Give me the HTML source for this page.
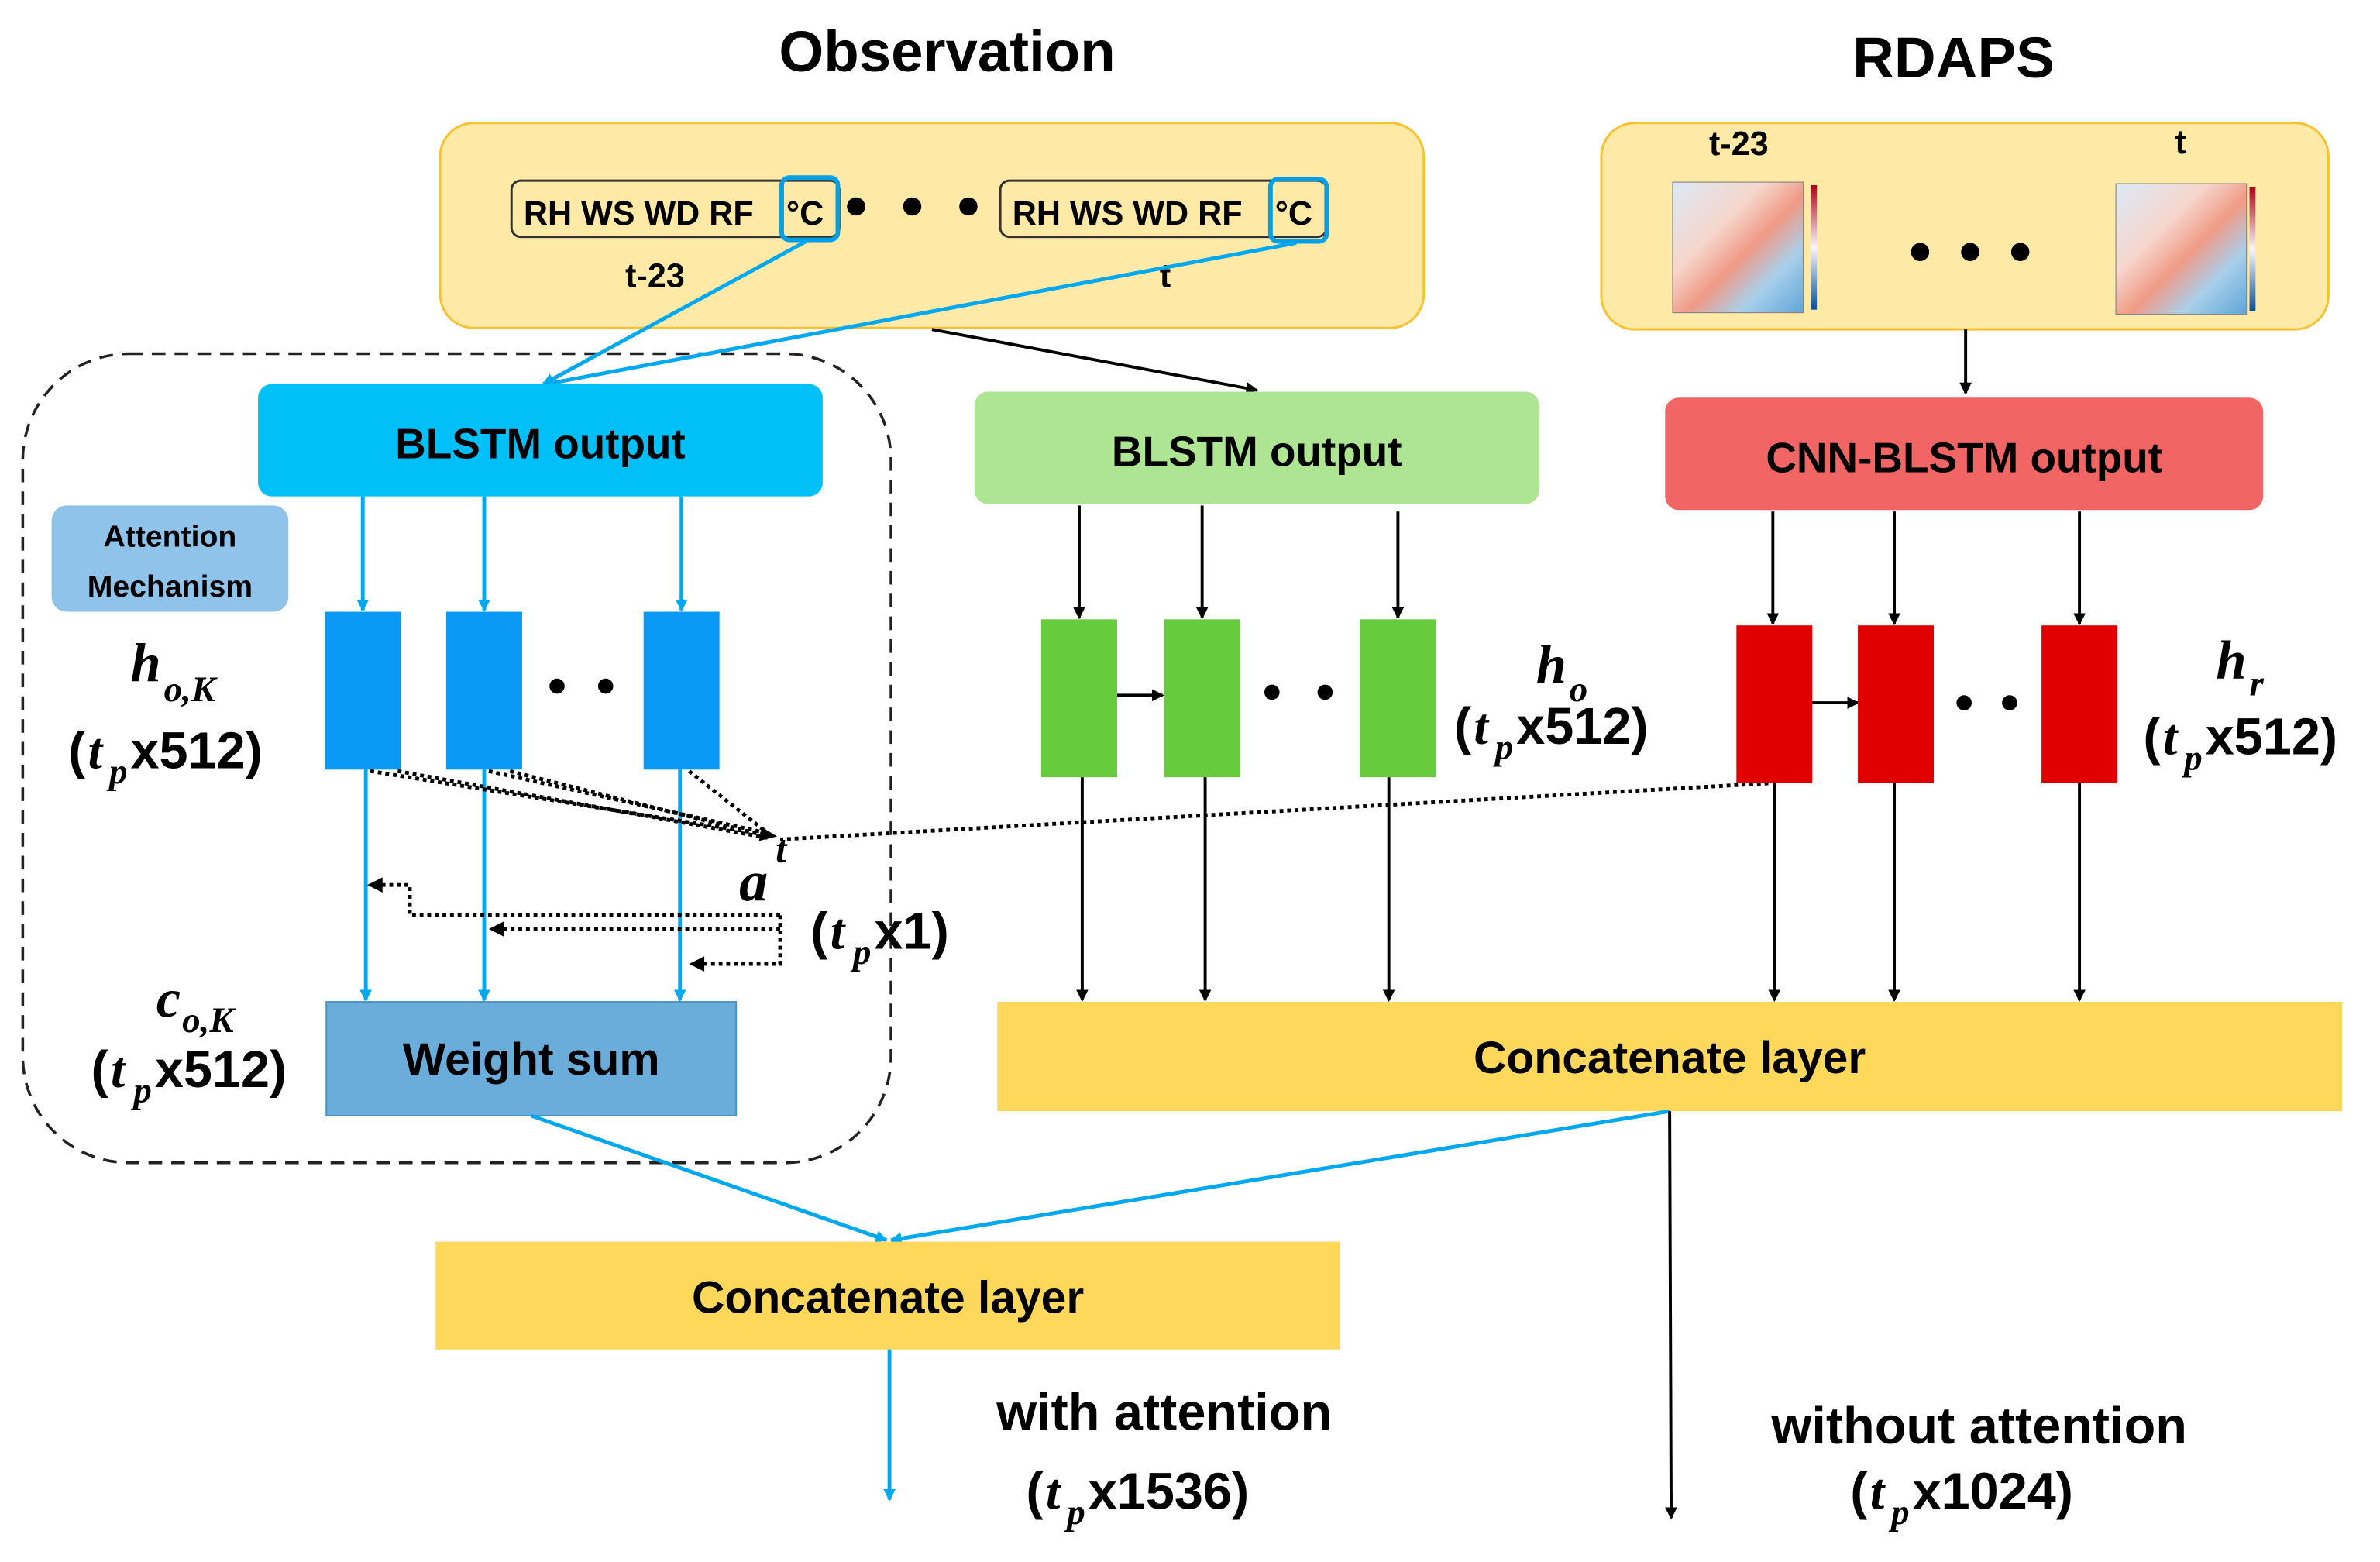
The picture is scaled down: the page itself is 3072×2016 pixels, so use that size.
<!DOCTYPE html>
<html><head><meta charset="utf-8"><style>
html,body{margin:0;padding:0;background:#fff;}
svg{display:block;}
text{font-family:"Liberation Sans",sans-serif;font-weight:bold;fill:#000;}
.m{font-family:"Liberation Serif",serif;font-style:italic;font-weight:bold;}
</style></head><body>
<svg width="3072" height="2016" viewBox="0 0 1568 1029" xmlns="http://www.w3.org/2000/svg">
<defs>
<marker id="ab" markerWidth="8" markerHeight="8" refX="7" refY="4" orient="auto" markerUnits="userSpaceOnUse"><path d="M0,0 L8,4 L0,8 Z" fill="#00a8f0"/></marker>
<marker id="ak" markerWidth="8" markerHeight="8" refX="7" refY="4" orient="auto" markerUnits="userSpaceOnUse"><path d="M0,0 L8,4 L0,8 Z" fill="#000"/></marker>
<linearGradient id="hm" x1="0" y1="0" x2="1" y2="1">
<stop offset="0" stop-color="#dbe9f5"/><stop offset="0.35" stop-color="#f6d6cc"/><stop offset="0.55" stop-color="#f09a86"/><stop offset="0.75" stop-color="#a9cfea"/><stop offset="1" stop-color="#5fa6d9"/></linearGradient>
<linearGradient id="cb" x1="0" y1="0" x2="0" y2="1"><stop offset="0" stop-color="#b0001a"/><stop offset="0.5" stop-color="#f7f7f7"/><stop offset="1" stop-color="#0a4f9a"/></linearGradient>
</defs>

<text x="624" y="47" font-size="38" text-anchor="middle">Observation</text>
<text x="1287" y="51" font-size="38" text-anchor="middle">RDAPS</text>

<rect x="290" y="81" width="648" height="135" rx="22" fill="#fee9a6" stroke="#f7c22e" stroke-width="1.5"/>
<rect x="337" y="119" width="216" height="37" rx="6" fill="none" stroke="#333" stroke-width="1.5"/>
<rect x="515" y="117" width="37" height="41" rx="5" fill="none" stroke="#00a0e8" stroke-width="3"/>
<text x="345" y="148" font-size="22">RH WS WD RF</text>
<text x="518" y="148" font-size="22">°C</text>
<circle cx="564" cy="136" r="6"/><circle cx="601" cy="136" r="6"/><circle cx="638" cy="136" r="6"/>
<rect x="659" y="119" width="215" height="37" rx="6" fill="none" stroke="#333" stroke-width="1.5"/>
<rect x="837" y="118" width="37" height="41" rx="5" fill="none" stroke="#00a0e8" stroke-width="3"/>
<text x="667" y="148" font-size="22">RH WS WD RF</text>
<text x="840" y="148" font-size="22">°C</text>
<text x="412" y="189" font-size="22">t-23</text>
<text x="764" y="189" font-size="22">t</text>

<rect x="1055" y="81" width="479" height="136" rx="22" fill="#fee9a6" stroke="#f7c22e" stroke-width="1.5"/>
<text x="1126" y="102" font-size="22">t-23</text>
<text x="1433" y="101" font-size="22">t</text>
<rect x="1102" y="120" width="86" height="86" fill="url(#hm)" stroke="#888" stroke-width="0.6"/>
<rect x="1193" y="122" width="4" height="82" fill="url(#cb)"/>
<rect x="1394" y="121" width="86" height="86" fill="url(#hm)" stroke="#888" stroke-width="0.6"/>
<rect x="1482" y="123" width="4" height="82" fill="url(#cb)"/>
<circle cx="1265" cy="166" r="6"/><circle cx="1298" cy="166" r="6"/><circle cx="1331" cy="166" r="6"/>

<rect x="15" y="233" width="572" height="533" rx="70" fill="none" stroke="#222" stroke-width="1.8" stroke-dasharray="9,6"/>

<line x1="531" y1="159" x2="358" y2="253" stroke="#00a8f0" stroke-width="2.5" marker-end="url(#ab)"/>
<line x1="854" y1="160" x2="360" y2="253" stroke="#00a8f0" stroke-width="2.5"/>
<line x1="614" y1="217" x2="828" y2="257" stroke="#000" stroke-width="2" marker-end="url(#ak)"/>
<line x1="1295" y1="217" x2="1295" y2="259" stroke="#000" stroke-width="2" marker-end="url(#ak)"/>

<rect x="170" y="253" width="372" height="74" rx="9" fill="#00c0f8"/>
<text x="356" y="302" font-size="28" text-anchor="middle">BLSTM output</text>
<rect x="34" y="333" width="156" height="70" rx="10" fill="#90c3ea"/>
<text x="112" y="360" font-size="20" text-anchor="middle" font-weight="normal">Attention</text>
<text x="112" y="393" font-size="20" text-anchor="middle" font-weight="normal">Mechanism</text>

<g stroke="#00a8f0" stroke-width="2.5">
<line x1="239" y1="327" x2="239" y2="402" marker-end="url(#ab)"/>
<line x1="319" y1="327" x2="319" y2="402" marker-end="url(#ab)"/>
<line x1="449" y1="327" x2="449" y2="402" marker-end="url(#ab)"/>
<line x1="241" y1="507" x2="241" y2="659" marker-end="url(#ab)"/>
<line x1="319" y1="507" x2="319" y2="659" marker-end="url(#ab)"/>
<line x1="448" y1="507" x2="448" y2="659" marker-end="url(#ab)"/>
</g>
<rect x="214" y="403" width="50" height="104" fill="#0a9af5"/>
<rect x="294" y="403" width="50" height="104" fill="#0a9af5"/>
<rect x="424" y="403" width="50" height="104" fill="#0a9af5"/>
<circle cx="367" cy="452" r="5"/><circle cx="399" cy="452" r="5"/>
<text class="m" x="86" y="449" font-size="36">h</text><text class="m" x="108" y="462" font-size="24">o,K</text>
<text x="45" y="506" font-size="34">(</text><text class="m" x="58" y="506" font-size="34">t</text><text class="m" x="72" y="516" font-size="24">p</text><text x="86" y="506" font-size="34">x512)</text>

<g stroke="#000" stroke-width="2.5" stroke-dasharray="2.5,2.5" fill="none">
<line x1="244" y1="508" x2="506" y2="550"/>
<line x1="262" y1="508" x2="506" y2="552"/>
<line x1="322" y1="508" x2="506" y2="549"/>
<line x1="336" y1="508" x2="506" y2="551"/>
<line x1="454" y1="508" x2="506" y2="549"/>
<line x1="1165" y1="516" x2="514" y2="553"/>
<polyline points="514,603 270,603 270,583 250,583"/>
<polyline points="514,612 330,612"/>
<polyline points="514,603 514,635 462,635"/>
</g>
<path d="M242,583 L252,578 L252,588 Z"/>
<path d="M322,612 L332,607 L332,617 Z"/>
<path d="M454,635 L464,630 L464,640 Z"/>
<path d="M512,551 L502,545 L500,554 Z"/>
<text class="m" x="487" y="593" font-size="38">a</text><text class="m" x="511" y="568" font-size="26">t</text>
<text x="534" y="625" font-size="34">(</text><text class="m" x="547" y="625" font-size="34">t</text><text class="m" x="562" y="635" font-size="24">p</text><text x="576" y="625" font-size="34">x1)</text>

<rect x="215" y="660" width="270" height="75" fill="#6badda" stroke="#4a90c8" stroke-width="1"/>
<text x="350" y="708" font-size="30" text-anchor="middle">Weight sum</text>
<text class="m" x="103" y="670" font-size="36">c</text><text class="m" x="120" y="680" font-size="24">o,K</text>
<text x="60" y="716" font-size="34">(</text><text class="m" x="73" y="716" font-size="34">t</text><text class="m" x="88" y="726" font-size="24">p</text><text x="102" y="716" font-size="34">x512)</text>

<rect x="642" y="258" width="372" height="74" rx="9" fill="#ade593"/>
<text x="828" y="307" font-size="28" text-anchor="middle">BLSTM output</text>
<g stroke="#000" stroke-width="2">
<line x1="711" y1="333" x2="711" y2="407" marker-end="url(#ak)"/>
<line x1="792" y1="333" x2="792" y2="407" marker-end="url(#ak)"/>
<line x1="921" y1="337" x2="921" y2="407" marker-end="url(#ak)"/>
<line x1="713" y1="512" x2="713" y2="659" marker-end="url(#ak)"/>
<line x1="794" y1="512" x2="794" y2="659" marker-end="url(#ak)"/>
<line x1="915" y1="512" x2="915" y2="659" marker-end="url(#ak)"/>
<line x1="736" y1="458" x2="766" y2="458" marker-end="url(#ak)"/>
</g>
<rect x="686" y="408" width="50" height="104" fill="#66cc3d"/>
<rect x="767" y="408" width="50" height="104" fill="#66cc3d"/>
<rect x="896" y="408" width="50" height="104" fill="#66cc3d"/>
<circle cx="838" cy="456" r="5"/><circle cx="873" cy="456" r="5"/>
<text class="m" x="1012" y="450" font-size="36">h</text><text class="m" x="1034" y="462" font-size="24">o</text>
<text x="958" y="490" font-size="34">(</text><text class="m" x="971" y="490" font-size="34">t</text><text class="m" x="985" y="500" font-size="24">p</text><text x="999" y="490" font-size="34">x512)</text>

<rect x="1097" y="262" width="394" height="74" rx="9" fill="#f26565"/>
<text x="1294" y="311" font-size="28" text-anchor="middle">CNN-BLSTM output</text>
<g stroke="#000" stroke-width="2">
<line x1="1168" y1="337" x2="1168" y2="411" marker-end="url(#ak)"/>
<line x1="1248" y1="337" x2="1248" y2="411" marker-end="url(#ak)"/>
<line x1="1370" y1="337" x2="1370" y2="411" marker-end="url(#ak)"/>
<line x1="1169" y1="516" x2="1169" y2="659" marker-end="url(#ak)"/>
<line x1="1248" y1="516" x2="1248" y2="659" marker-end="url(#ak)"/>
<line x1="1370" y1="516" x2="1370" y2="659" marker-end="url(#ak)"/>
<line x1="1193" y1="463" x2="1224" y2="463" marker-end="url(#ak)"/>
</g>
<rect x="1144" y="412" width="50" height="104" fill="#e00000"/>
<rect x="1224" y="412" width="50" height="104" fill="#e00000"/>
<rect x="1345" y="412" width="50" height="104" fill="#e00000"/>
<circle cx="1294" cy="463" r="5"/><circle cx="1324" cy="463" r="5"/>
<text class="m" x="1460" y="447" font-size="36">h</text><text class="m" x="1482" y="458" font-size="24">r</text>
<text x="1412" y="497" font-size="34">(</text><text class="m" x="1425" y="497" font-size="34">t</text><text class="m" x="1439" y="507" font-size="24">p</text><text x="1453" y="497" font-size="34">x512)</text>

<rect x="657" y="660" width="886" height="72" fill="#fdd85a"/>
<text x="1100" y="707" font-size="30" text-anchor="middle">Concatenate layer</text>

<line x1="350" y1="735" x2="584" y2="817" stroke="#00a8f0" stroke-width="2.5" marker-end="url(#ab)"/>
<line x1="1100" y1="732" x2="587" y2="817" stroke="#00a8f0" stroke-width="2.5" marker-end="url(#ab)"/>
<line x1="1100" y1="732" x2="1101" y2="1000" stroke="#000" stroke-width="2" marker-end="url(#ak)"/>

<rect x="287" y="818" width="596" height="71" fill="#fdd85a"/>
<text x="585" y="865" font-size="30" text-anchor="middle">Concatenate layer</text>
<line x1="586" y1="889" x2="586" y2="988" stroke="#00a8f0" stroke-width="2.5" marker-end="url(#ab)"/>

<text x="767" y="942" font-size="34" text-anchor="middle">with attention</text>
<text x="676" y="994" font-size="34">(</text><text class="m" x="689" y="994" font-size="34">t</text><text class="m" x="703" y="1004" font-size="24">p</text><text x="717" y="994" font-size="34">x1536)</text>
<text x="1304" y="951" font-size="34" text-anchor="middle">without attention</text>
<text x="1219" y="994" font-size="34">(</text><text class="m" x="1232" y="994" font-size="34">t</text><text class="m" x="1246" y="1004" font-size="24">p</text><text x="1260" y="994" font-size="34">x1024)</text>
</svg>
</body></html>
